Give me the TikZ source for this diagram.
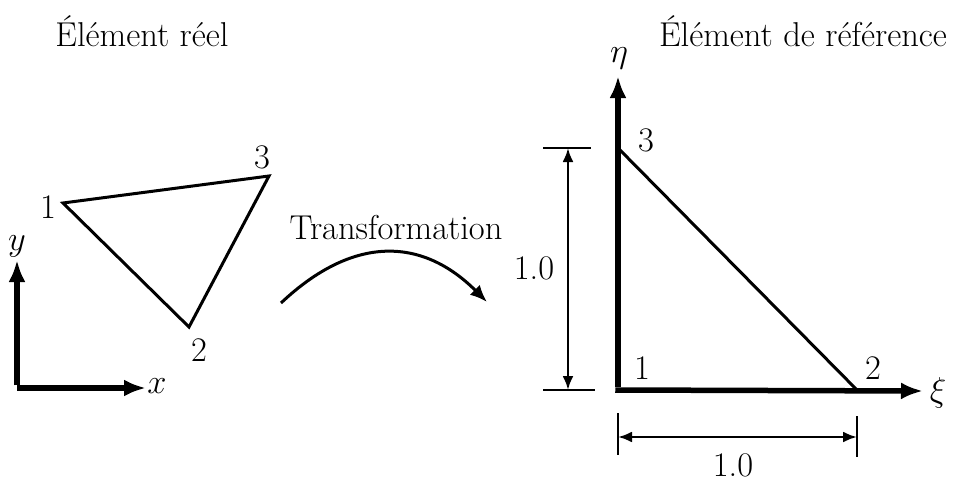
\RequirePackage{fix-cm}
\documentclass[tikz,border=0pt]{standalone}
\usetikzlibrary{arrows.meta}
\begin{document}
\begin{tikzpicture}[x=1pt,y=-1pt,
  lab/.style={font=\fontsize{34.5}{41}\selectfont, inner sep=0pt},
  axis/.style={line width=5.5pt, -{Latex[length=22pt,width=17pt]}},
  edge/.style={line width=3pt, line join=miter},
  dim/.style={line width=2.6pt, {Latex[length=14pt,width=11pt]}-{Latex[length=14pt,width=11pt]}},
  tick/.style={line width=2.6pt}]
\useasboundingbox (0,0) rectangle (954,482);
% titles
\node[lab] (t1) at (142,31) {Élément réel};
\node[lab] (t2) at (803,31) {Élément de référence};
% left axes
\coordinate (o) at (17,388);
\coordinate (ytip) at (17,260);
\coordinate (xtip) at (146,388);
\draw[axis] ([yshift=2.75pt]o) -- (ytip);
\draw[axis] (o) -- (xtip);
\node[lab] (xl) at (157,386) {$x$};
\node[lab] (yl) at (17,246) {$y$};
% left triangle
\coordinate (a1) at (63,203);
\coordinate (a2) at (189,327);
\coordinate (a3) at (269,176);
\draw[edge] (a1) -- (a3) -- (a2) -- cycle;
\node[lab] (n1) at (48,207) {1};
\node[lab] (n3) at (262,157) {3};
\node[lab] (n2) at (199,350) {2};
% transformation
\node[lab] (tr) at (396,228) {Transformation};
\coordinate (cs) at (281,303);
\coordinate (ce) at (487,302);
\draw[line width=3pt, -{Latex[length=17pt,width=14pt]}] (cs) .. controls (352,236) and (421,236) .. (ce);
% right axes
\coordinate (O) at (618,390);
\coordinate (etip) at (618,76);
\coordinate (xitip) at (923,391);
\draw[axis] ([yshift=2.75pt]O) -- (etip);
\draw[axis] ([xshift=-2.75pt]O) -- (xitip);
\node[lab] (el) at (619,58) {$\eta$};
\node[lab] (xil) at (938,393) {$\xi$};
% right triangle
\coordinate (b3) at (618,148);
\coordinate (b2) at (857,390);
\draw[edge] (b3) -- (b2);
\node[lab] (m3) at (646,140) {3};
\node[lab] (m1) at (642,368) {1};
\node[lab] (m2) at (873,368) {2};
% vertical dimension
\coordinate (vt1) at (543,148); \coordinate (vt2) at (591,148);
\coordinate (vb1) at (543,390); \coordinate (vb2) at (595,390);
\draw[tick] (vt1) -- (vt2);
\draw[tick] (vb1) -- (vb2);
\coordinate (va) at (568,148); \coordinate (vb) at (568,390);
\draw[dim] (va) -- (vb);
\node[lab] (vl) at (534,268) {1.0};
% horizontal dimension
\coordinate (hl1) at (618,413); \coordinate (hl2) at (618,455);
\coordinate (hr1) at (857,416); \coordinate (hr2) at (857,457);
\draw[tick] (hl1) -- (hl2);
\draw[tick] (hr1) -- (hr2);
\coordinate (ha) at (618,437); \coordinate (hb) at (857,437);
\draw[dim] (ha) -- (hb);
\node[lab] (hlab) at (733,465) {1.0};
\end{tikzpicture}
\end{document}
